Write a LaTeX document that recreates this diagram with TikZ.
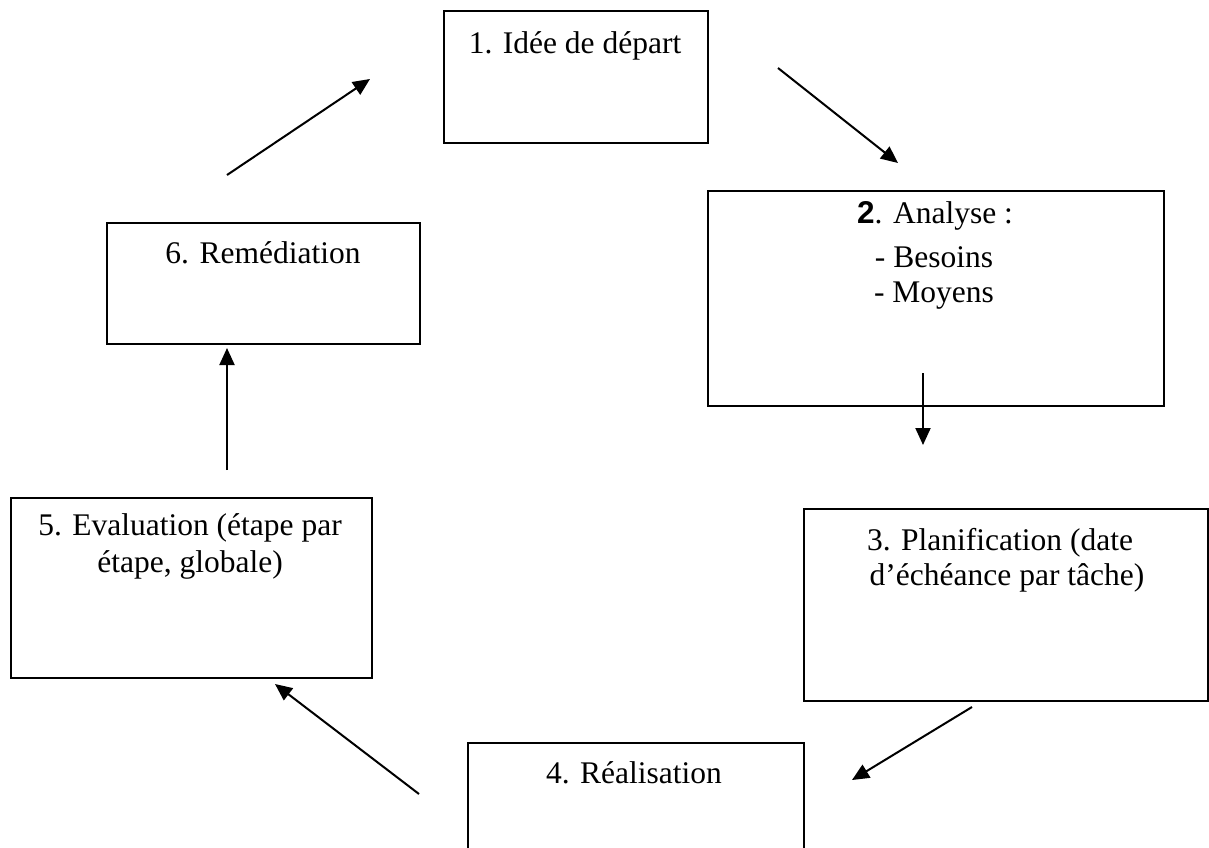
\documentclass[tikz,border=0pt]{standalone}
\usepackage{fontspec}
\setmainfont{Liberation Serif}
\newfontfamily\arialfont{Liberation Sans}
\usetikzlibrary{arrows.meta}
\begin{document}
\begin{tikzpicture}[x=0.5pt,y=-0.5pt,
  box/.style={draw, line width=1.1pt, rectangle, inner sep=0pt, anchor=north west},
  lbl/.style={anchor=base, inner sep=0pt, font=\fontsize{15.75}{18}\selectfont},
  arr/.style={line width=1pt, -{Triangle[length=8.5pt,width=7.5pt]}}]
\useasboundingbox (0,0) rectangle (1209,847);
\clip (0,0) rectangle (1209,847);
\fill[white] (0,0) rectangle (1209,847);
% boxes
\node[box, minimum width=132pt, minimum height=66pt] (b1) at (443,10) {};
\node[box, minimum width=228pt, minimum height=107.5pt] (b2) at (707,190) {};
\node[box, minimum width=202pt, minimum height=96pt] (b3) at (803,508) {};
\node[box, minimum width=168pt, minimum height=70pt] (b4) at (467,742) {};
\node[box, minimum width=180.5pt, minimum height=90pt] (b5) at (10,497) {};
\node[box, minimum width=156.5pt, minimum height=60.5pt] (b6) at (106,222) {};
% texts
\node[lbl] (t1) at (575,53) {1. Idée de départ};
\node[lbl] (t2a) at (935,223) {{\arialfont\bfseries 2}. Analyse :};
\node[lbl] (t2b) at (934,267) {- Besoins};
\node[lbl] (t2c) at (934,302) {- Moyens};
\node[lbl] (t3a) at (1000,550) {3. Planification (date};
\node[lbl] (t3b) at (1007,585) {d’échéance par tâche)};
\node[lbl] (t4) at (634,783) {4. Réalisation};
\node[lbl] (t5a) at (190,535) {5. Evaluation (étape par};
\node[lbl] (t5b) at (190,572) {étape, globale)};
\node[lbl] (t6) at (263,263) {6. Remédiation};
% arrow ends
\coordinate (a1s) at (778,68);  \coordinate (a1e) at (898,163);
\coordinate (a2s) at (923,373); \coordinate (a2e) at (923,445);
\coordinate (a3s) at (972,707); \coordinate (a3e) at (852,780);
\coordinate (a4s) at (419,794); \coordinate (a4e) at (275,684);
\coordinate (a5s) at (227,470); \coordinate (a5e) at (227,348);
\coordinate (a6s) at (227,175); \coordinate (a6e) at (370,79);
\draw[arr] (a1s) -- (a1e);
\draw[arr] (a2s) -- (a2e);
\draw[arr] (a3s) -- (a3e);
\draw[arr] (a4s) -- (a4e);
\draw[arr] (a5s) -- (a5e);
\draw[arr] (a6s) -- (a6e);
\end{tikzpicture}
\end{document}
